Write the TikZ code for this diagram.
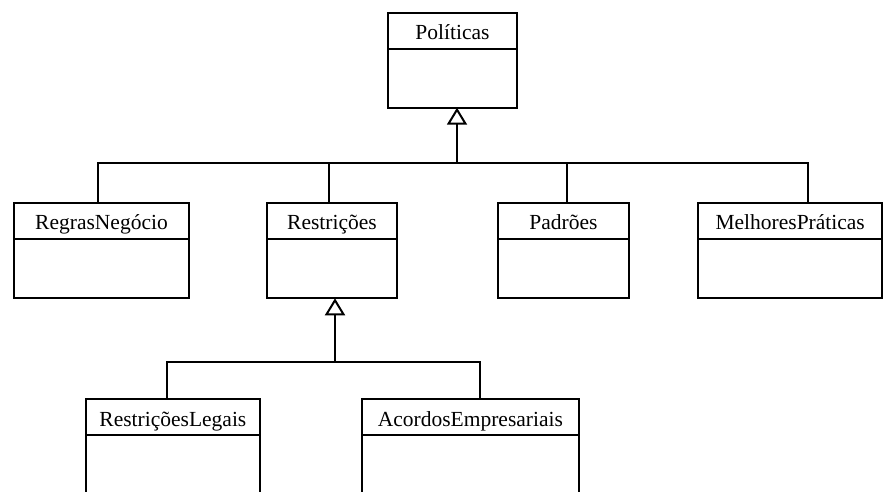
\documentclass[tikz,border=0pt]{standalone}
\usepackage{fontspec}
\setmainfont{Liberation Serif}
\usetikzlibrary{arrows.meta}

% A UML class: box with a name compartment on top.
% #1 node name, #2 centre x, #3 centre y, #4 width, #5 height, #6 class name
\newcommand{\umlclass}[6]{%
  \node[classbox, minimum width=#4pt, minimum height=#5pt] (#1) at (#2,#3) {};
  \draw[umlline] ([yshift=-36pt]#1.north west) -- ([yshift=-36pt]#1.north east);
  \node[classname] at ([yshift=-27pt]#1.north) {#6};
}

\begin{document}
\begin{tikzpicture}[x=1pt, y=-1pt,
  umlline/.style={line width=2pt, black},
  classbox/.style={draw, umlline, fill=white, rectangle, inner sep=0pt, outer sep=0pt},
  classname/.style={anchor=base, inner sep=0pt, font=\fontsize{21.5pt}{26pt}\selectfont},
  generalization/.style={umlline, -{Triangle[open, length=17pt, width=20pt, line width=2pt]}},
  link/.style={umlline}]
\useasboundingbox (0,0) rectangle (883,491);
\clip (0,0) rectangle (883,491);
\fill[white] (0,0) rectangle (883,491);

% classes
\umlclass{pol}{452.5}{60.2}{129.6}{95}{Políticas}
\umlclass{regras}{101.5}{250.5}{174.4}{95.6}{RegrasNegócio}
\umlclass{restr}{332}{250.5}{130.6}{95.6}{Restrições}
\umlclass{padroes}{563.5}{250.5}{130.4}{95.6}{Padrões}
\umlclass{melhores}{790.2}{250.5}{183.7}{95.6}{MelhoresPráticas}
\umlclass{legais}{172.9}{464.7}{174.3}{130.7}{RestriçõesLegais}
\umlclass{acordos}{470.4}{464.7}{217.3}{130.7}{AcordosEmpresariais}

% junction points of the inheritance trees
\coordinate (busTop) at (457,163);
\coordinate (busLow) at (335,362);

% Políticas hierarchy
\draw[generalization] (busTop) -- ([xshift=4.5pt]pol.south);
\draw[link] ([xshift=-3.2pt]regras.north) |- (busTop);
\draw[link] ([xshift=-2.7pt]restr.north) |- (busTop);
\draw[link] ([xshift=3.2pt]padroes.north) |- (busTop);
\draw[link] ([xshift=18.1pt]melhores.north) |- (busTop);

% Restrições hierarchy
\draw[generalization] (busLow) -- ([xshift=3pt]restr.south);
\draw[link] ([xshift=-5.6pt]legais.north) |- (busLow);
\draw[link] ([xshift=9.6pt]acordos.north) |- (busLow);
\end{tikzpicture}
\end{document}
